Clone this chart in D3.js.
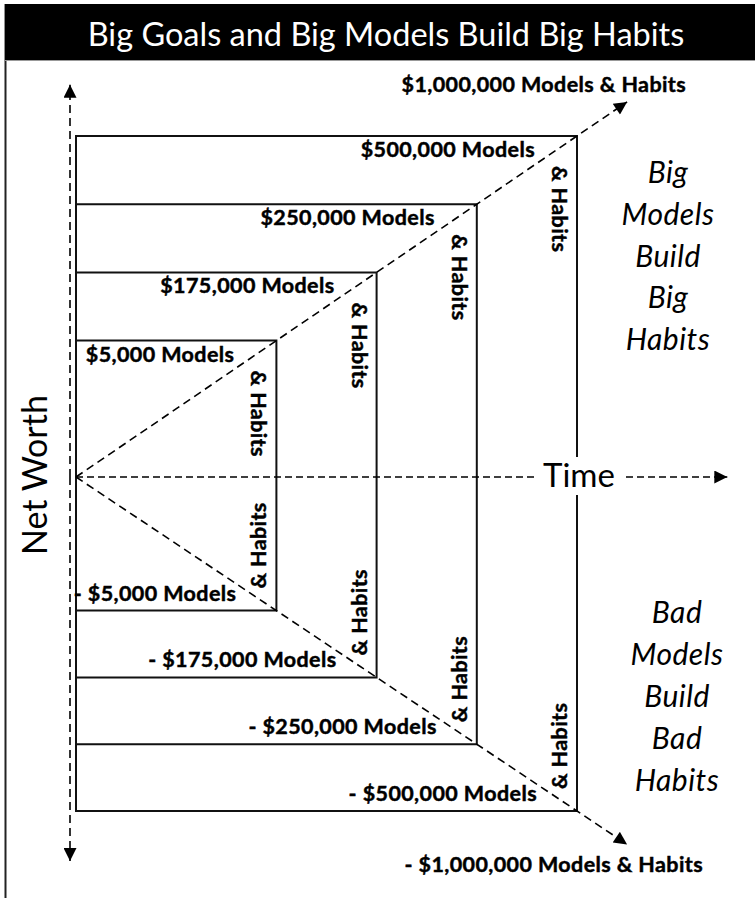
<!DOCTYPE html>
<html><head><meta charset="utf-8">
<script src="https://cdn.jsdelivr.net/npm/d3@7"></script>
<style>
body{margin:0;background:#fff}
svg{display:block}
text{font-family:Lato,"Open Sans","DejaVu Sans",sans-serif}
</style>
</head><body>
<svg id="chart" width="755" height="898"></svg>
<script>
// ---- data ----
const title = "Big Goals and Big Models Build Big Habits";
const modelLevels = ["$5,000", "$175,000", "$250,000", "$500,000"];
const levelSteps = [2, 3, 4, 5];      // where each model box ends on the time axis
const gainReach = [2, 3, 4, 5];       // positive net-worth reach of each box
const lossReach = [-2, -3, -4, -5];   // negative net-worth reach of each box
const topLevel = "$1,000,000";
const topStep = 5.5;
const timeAxisEnd = 6.5;
const netAxisEnd = 5.75;
const goodWords = ["Big", "Models", "Build", "Big", "Habits"];
const badWords = ["Bad", "Models", "Build", "Bad", "Habits"];
const xLabel = "Time";
const yLabel = "Net Worth";

// ---- drawing ----
const svg = d3.select("#chart");
const x = d3.scaleLinear().domain([0, 5]).range([76, 577]);
const y = d3.scaleLinear().domain([-5, 0, 5]).range([811, 477, 136]);

const defs = svg.append("defs");
defs.append("marker").attr("id", "arrow")
  .attr("viewBox", "0 0 10 10").attr("refX", 10).attr("refY", 5)
  .attr("markerUnits", "userSpaceOnUse")
  .attr("markerWidth", 15).attr("markerHeight", 13)
  .attr("orient", "auto")
  .append("path").attr("d", "M0,0 L10,5 L0,10 Z").attr("fill", "#000");

// frame and title bar
svg.append("line").attr("x1", 5.5).attr("x2", 5.5).attr("y1", 4).attr("y2", 898)
  .attr("stroke", "#222").attr("stroke-width", 2);
svg.append("rect").attr("x", 5).attr("y", 4).attr("width", 750).attr("height", 56).attr("fill", "#000");
svg.append("line").attr("x1", 5).attr("x2", 755).attr("y1", 60.5).attr("y2", 60.5)
  .attr("stroke", "#999").attr("stroke-width", 1);
svg.append("text").attr("x", 386).attr("y", 46).attr("text-anchor", "middle")
  .attr("fill", "#fff").attr("font-size", 32.5).text(title);

// boxes
const g = svg.append("g");
modelLevels.forEach((lvl, i) => {
  const x0 = x(0), x1 = x(levelSteps[i]), yt = y(gainReach[i]), yb = y(lossReach[i]);
  g.append("path")
    .attr("d", `M${x0},${yt} L${x1},${yt} L${x1},${yb} L${x0},${yb} Z`)
    .attr("fill", "none").attr("stroke", "#111").attr("stroke-width", 2);
});

// axes
const dash = "8,5";
svg.append("line").attr("x1", x(0) - 6).attr("x2", x(0) - 6)
  .attr("y1", y(0)).attr("y2", y(netAxisEnd))
  .attr("stroke", "#000").attr("stroke-width", 1.6).attr("stroke-dasharray", dash)
  .attr("marker-end", "url(#arrow)");
svg.append("line").attr("x1", x(0) - 6).attr("x2", x(0) - 6)
  .attr("y1", y(0)).attr("y2", y(-netAxisEnd))
  .attr("stroke", "#000").attr("stroke-width", 1.6).attr("stroke-dasharray", dash)
  .attr("marker-end", "url(#arrow)");
svg.append("line").attr("x1", x(0)).attr("x2", x(timeAxisEnd))
  .attr("y1", y(0)).attr("y2", y(0))
  .attr("stroke", "#000").attr("stroke-width", 1.6).attr("stroke-dasharray", "7,4")
  .attr("marker-end", "url(#arrow)");
svg.append("line").attr("x1", x(0)).attr("y1", y(0))
  .attr("x2", x(topStep)).attr("y2", y(topStep))
  .attr("stroke", "#000").attr("stroke-width", 1.6).attr("stroke-dasharray", dash)
  .attr("marker-end", "url(#arrow)");
svg.append("line").attr("x1", x(0)).attr("y1", y(0))
  .attr("x2", x(topStep)).attr("y2", y(-topStep))
  .attr("stroke", "#000").attr("stroke-width", 1.6).attr("stroke-dasharray", dash)
  .attr("marker-end", "url(#arrow)");

// Time label with white backing
const tx = 579, ty = y(0) + 10;
svg.append("rect").attr("x", tx - 44).attr("y", y(0) - 20).attr("width", 88).attr("height", 38).attr("fill", "#fff");
svg.append("text").attr("x", tx).attr("y", ty).attr("text-anchor", "middle")
  .attr("font-size", 33).attr("fill", "#000").text(xLabel);

// Net Worth
svg.append("text").attr("transform", `translate(47,${y(0) - 2}) rotate(-90)`)
  .attr("text-anchor", "middle").attr("font-size", 34).attr("fill", "#000").text(yLabel);

// level labels
const bold = 21.5, weight = 700;
function boldText(sel) {
  return sel.attr("font-weight", weight).attr("font-size", bold)
    .attr("letter-spacing", 0.4).attr("fill", "#000")
    .attr("stroke", "#000").attr("stroke-width", 0.45);
}
modelLevels.forEach((lvl, i) => {
  const xr = x(levelSteps[i]), yt = y(gainReach[i]), yb = y(lossReach[i]);
  boldText(svg.append("text")).attr("x", xr - 42).attr("y", yt + 21).attr("text-anchor", "end")
    .text(`${lvl} Models`);
  boldText(svg.append("text")).attr("x", xr - 40).attr("y", yb - 10).attr("text-anchor", "end")
    .text(`- ${lvl} Models`);
  boldText(svg.append("text")).attr("transform", `translate(${xr - 25},${yt + 30}) rotate(90)`)
    .text("& Habits");
  boldText(svg.append("text")).attr("transform", `translate(${xr - 10},${yb - 22}) rotate(-90)`)
    .text("& Habits");
});

// top / bottom million labels
boldText(svg.append("text")).attr("x", x(topStep) + 59).attr("y", y(topStep) - 10).attr("text-anchor", "end")
  .text(`${topLevel} Models & Habits`);
boldText(svg.append("text")).attr("x", x(topStep) + 76).attr("y", y(-topStep) + 28).attr("text-anchor", "end")
  .text(`- ${topLevel} Models & Habits`);

// side captions
goodWords.forEach((w, i) => {
  svg.append("text").attr("x", 668).attr("y", 183 + i * 41.8).attr("text-anchor", "middle")
    .attr("font-style", "italic").attr("font-size", 30).attr("letter-spacing", 0.5).text(w);
});
badWords.forEach((w, i) => {
  svg.append("text").attr("x", 677).attr("y", 623 + i * 42).attr("text-anchor", "middle")
    .attr("font-style", "italic").attr("font-size", 30).attr("letter-spacing", 0.5).text(w);
});
</script>
</body></html>
